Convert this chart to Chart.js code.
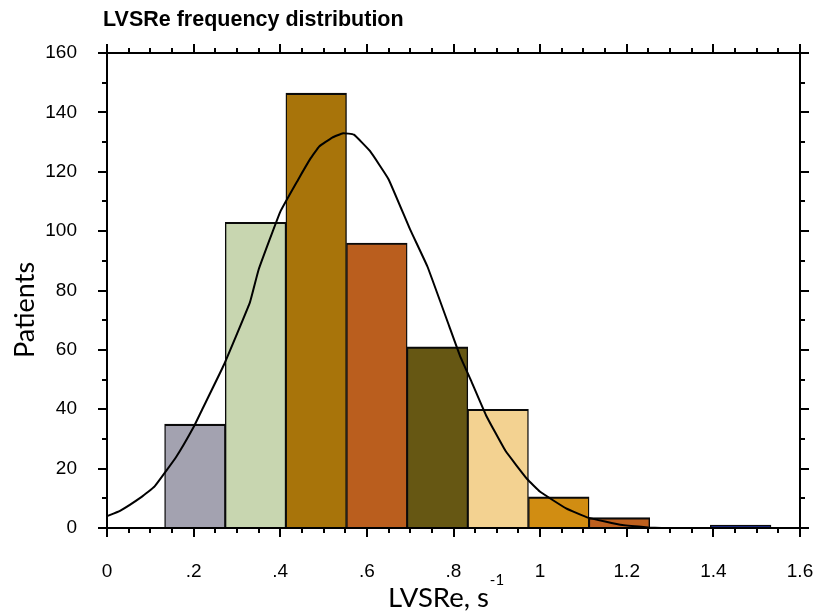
<!DOCTYPE html>
<html>
<head>
<meta charset="utf-8">
<script src="https://cdn.jsdelivr.net/npm/chart.js@4.4.1/dist/chart.umd.min.js"></script>
<style>
  html, body { margin: 0; padding: 0; background: #fff; }
  canvas { display: block; }
</style>
</head>
<body>
<canvas id="chart" width="815" height="612"></canvas>
<script>
// histogram bins (LVSRe, s^-1) and patient counts
const binEdges = [0.133, 0.273, 0.413, 0.553, 0.693, 0.833, 0.973, 1.113, 1.253, 1.393, 1.533];
const patientCounts = [35, 103, 146.5, 96, 61, 40, 10.5, 3.5, null, 1];
const binColors = ['#a3a2b0', '#c8d6b0', '#a8740a', '#ba5e1e', '#665713', '#f3d291', '#d18d12', '#bf601e', '#ffffff', '#1c2a80'];

// fitted curve
const curveX = [0, 0.03, 0.08, 0.11, 0.16, 0.2, 0.22, 0.27, 0.33, 0.35, 0.4, 0.44, 0.47, 0.49, 0.52, 0.545,
  0.57, 0.607, 0.65, 0.7, 0.74, 0.79, 0.815, 0.84, 0.875, 0.92, 0.97, 1.0, 1.06, 1.11, 1.19, 1.25, 1.28];
const curveY = [4, 5.8, 10.5, 14, 24, 34, 40, 55, 76, 87, 106.5, 117, 124.5, 128.5, 131.5, 133,
  132.5, 127, 117.5, 100.5, 88, 68, 58, 49.8, 38, 26, 16.5, 12.2, 6.6, 3.5, 1, 0.2, 0];

// axis ticks
const xTickLabels = ['0', '.2', '.4', '.6', '.8', '1', '1.2', '1.4', '1.6'];
const xMajor = [0, 0.2, 0.4, 0.6, 0.8, 1, 1.2, 1.4, 1.6];
const xMinor = [0.05, 0.1, 0.15, 0.25, 0.3, 0.35, 0.45, 0.5, 0.55, 0.65, 0.7, 0.75, 0.85, 0.9, 0.95,
  1.05, 1.1, 1.15, 1.25, 1.3, 1.35, 1.45, 1.5, 1.55];
const yMajor = [0, 20, 40, 60, 80, 100, 120, 140, 160];
const yMinor = [10, 30, 50, 70, 90, 110, 130, 150];

const barData = patientCounts.map((c, i) => ({ x: (binEdges[i] + binEdges[i + 1]) / 2, y: c }));
const curveData = curveX.map((x, i) => ({ x: x, y: curveY[i] }));

const framePlugin = {
  id: 'frame',
  afterDraw(chart) {
    const ctx = chart.ctx;
    const xs = chart.scales.x, ys = chart.scales.y;
    const a = chart.chartArea;
    ctx.save();
    ctx.strokeStyle = '#000';
    ctx.lineWidth = 2;
    ctx.strokeRect(a.left, a.top, a.right - a.left, a.bottom - a.top);

    ctx.beginPath();
    xMajor.forEach(v => {
      const p = Math.round(xs.getPixelForValue(v));
      ctx.moveTo(p, a.bottom); ctx.lineTo(p, a.bottom + 9);
      ctx.moveTo(p, a.top); ctx.lineTo(p, a.top - 9);
    });
    xMinor.forEach(v => {
      const p = Math.round(xs.getPixelForValue(v));
      ctx.moveTo(p, a.bottom); ctx.lineTo(p, a.bottom + 5);
      ctx.moveTo(p, a.top); ctx.lineTo(p, a.top - 5);
    });
    yMajor.forEach(v => {
      const p = Math.round(ys.getPixelForValue(v));
      ctx.moveTo(a.left, p); ctx.lineTo(a.left - 9, p);
      ctx.moveTo(a.right, p); ctx.lineTo(a.right + 9, p);
    });
    yMinor.forEach(v => {
      const p = Math.round(ys.getPixelForValue(v));
      ctx.moveTo(a.left, p); ctx.lineTo(a.left - 5, p);
      ctx.moveTo(a.right, p); ctx.lineTo(a.right + 5, p);
    });
    ctx.stroke();

    // title
    ctx.fillStyle = '#000';
    ctx.textAlign = 'left';
    ctx.textBaseline = 'alphabetic';
    ctx.font = 'bold 21.5px "Liberation Sans", Arial, sans-serif';
    ctx.fillText('LVSRe frequency distribution', 103, 26);

    // y axis title
    ctx.save();
    ctx.translate(25, 310);
    ctx.rotate(-Math.PI / 2);
    ctx.textAlign = 'center';
    ctx.textBaseline = 'middle';
    ctx.font = '27px Lato, "Open Sans", sans-serif';
    ctx.fillText('Patients', 0, 0);
    ctx.restore();

    // x axis title with superscript
    ctx.font = '27.5px Lato, "Open Sans", sans-serif';
    ctx.textAlign = 'left';
    ctx.fillText('LVSRe, s', 388, 607);
    const w = ctx.measureText('LVSRe, s').width;
    ctx.font = '15px Lato, "Open Sans", sans-serif';
    ctx.fillText('-1', 388 + w + 1, 585);
    ctx.restore();
  }
};

const tickFont = { family: '"Liberation Sans", Arial, sans-serif', size: 19 };

new Chart(document.getElementById('chart').getContext('2d'), {
  type: 'bar',
  data: {
    datasets: [
      {
        type: 'line',
        data: curveData,
        borderColor: '#000',
        borderWidth: 2,
        pointRadius: 0,
        tension: 0.1,
        fill: false,
        order: 0
      },
      {
        type: 'bar',
        data: barData,
        backgroundColor: binColors,
        borderColor: '#0a0a0a',
        borderWidth: { top: 2.2, left: 1.4, right: 1.4, bottom: 0 },
        borderSkipped: false,
        barPercentage: 1,
        categoryPercentage: 1,
        grouped: false,
        order: 1
      }
    ]
  },
  options: {
    responsive: false,
    animation: false,
    layout: { padding: { top: 53, right: 15, left: 0, bottom: 0 } },
    plugins: {
      legend: { display: false },
      tooltip: { enabled: false },
      title: { display: false }
    },
    scales: {
      x: {
        type: 'linear',
        min: 0,
        max: 1.6,
        offset: false,
        grid: { display: true, drawOnChartArea: false, drawTicks: true, tickLength: 9, color: 'rgba(0,0,0,0)' },
        border: { display: false },
        ticks: {
          stepSize: 0.2,
          padding: 23,
          color: '#000',
          font: tickFont,
          maxRotation: 0,
          autoSkip: false,
          callback: (v, i) => xTickLabels[i]
        },
        afterFit: s => { s.height = 84; s.paddingLeft = 0; s.paddingRight = 0; }
      },
      y: {
        min: 0,
        max: 160,
        grid: { display: true, drawOnChartArea: false, drawTicks: true, tickLength: 9, color: 'rgba(0,0,0,0)' },
        border: { display: false },
        ticks: { stepSize: 20, padding: 21, color: '#000', font: tickFont },
        afterFit: s => { s.width = 107; s.paddingTop = 0; s.paddingBottom = 0; }
      }
    }
  },
  plugins: [framePlugin]
});
</script>
</body>
</html>
